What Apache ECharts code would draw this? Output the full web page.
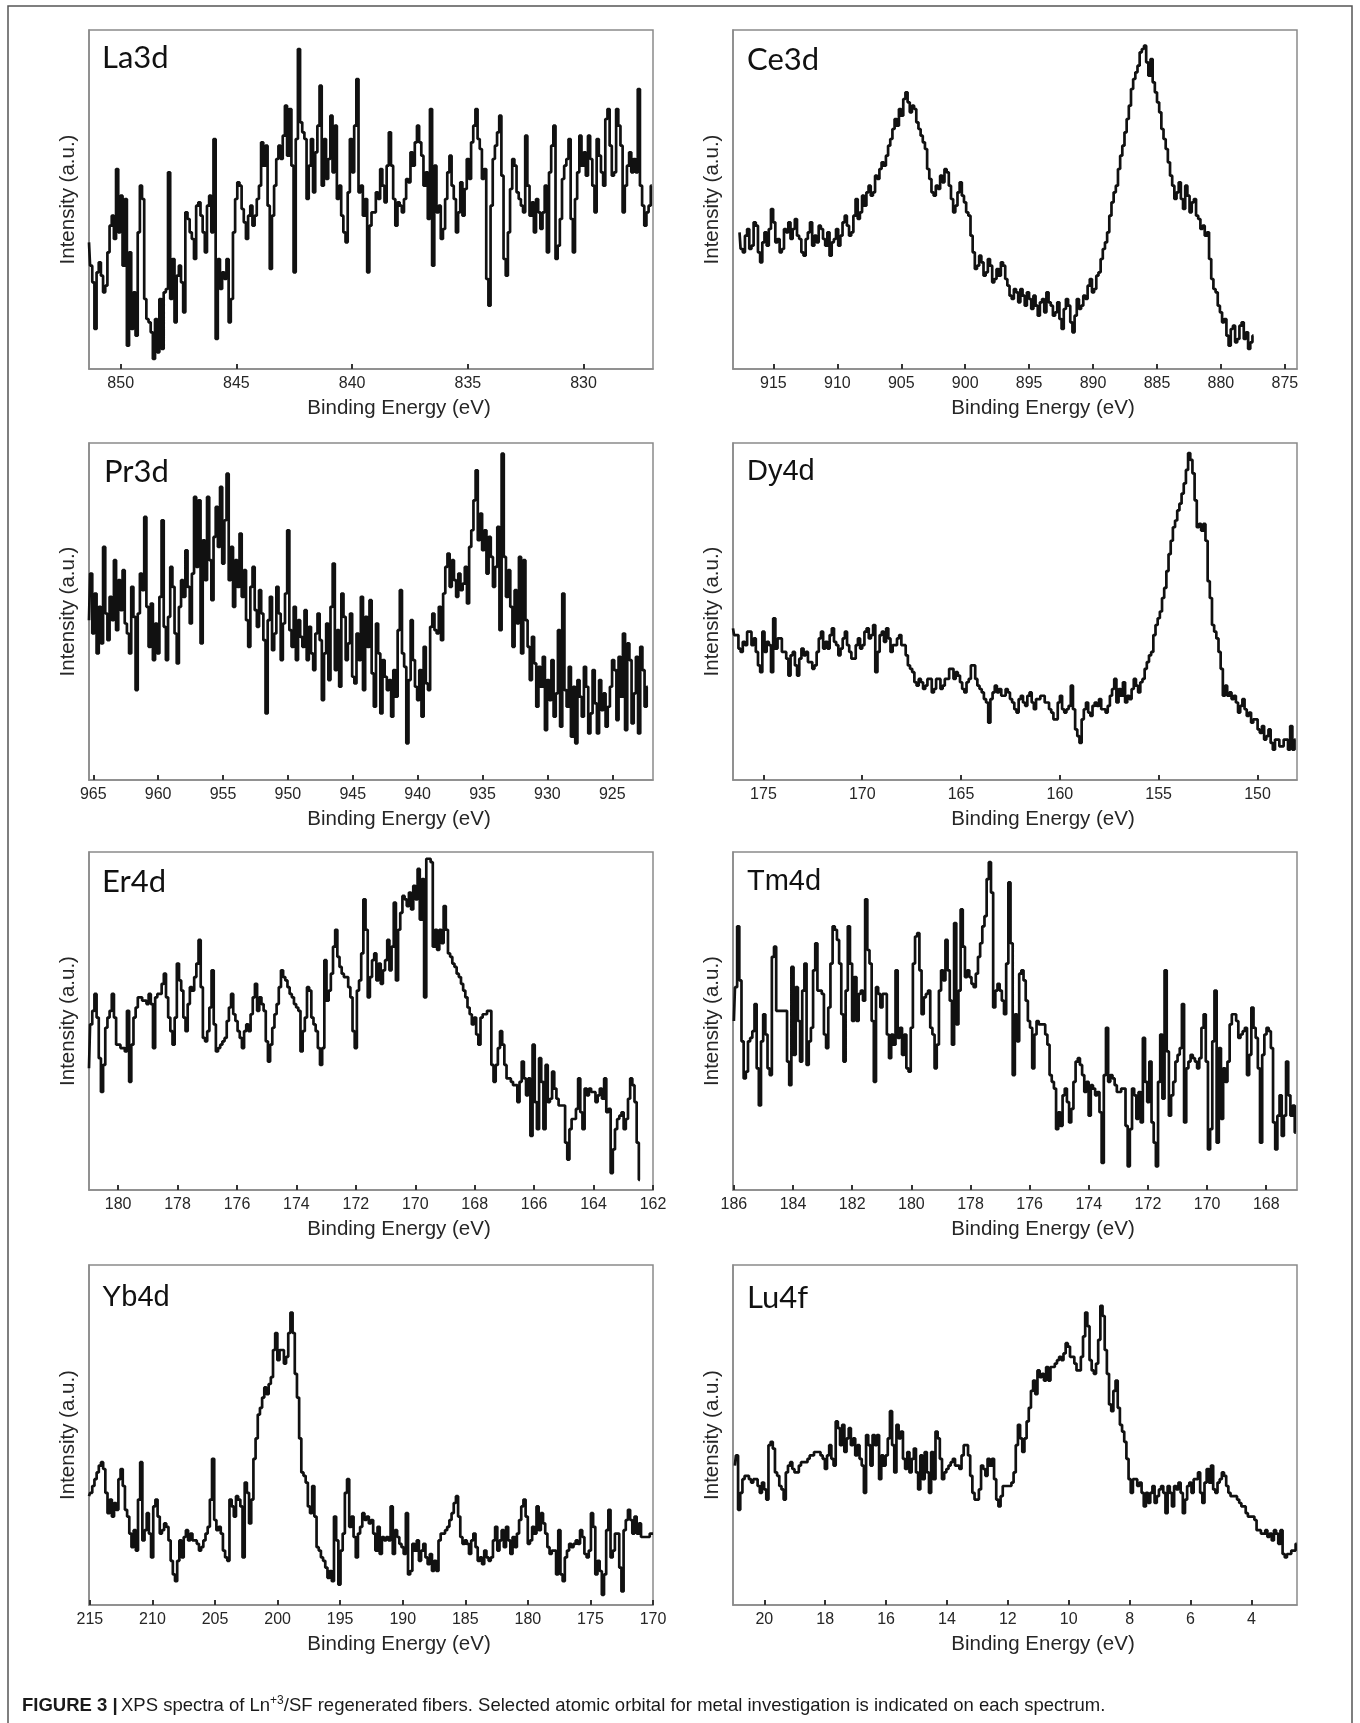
<!DOCTYPE html>
<html>
<head>
<meta charset="utf-8">
<title>XPS spectra of Ln+3/SF regenerated fibers</title>
<script src="https://cdn.jsdelivr.net/npm/echarts@6/dist/echarts.min.js"></script>
<style>
  html, body { margin: 0; padding: 0; background: #fff; }
  #chart { width: 1360px; height: 1723px; }
</style>
</head>
<body>
<div id="chart"></div>
<script>
// ---- Spectra (intensity in a.u., evenly spaced in binding energy) ----
const LA3D = [38,31,26,12,29,32,28,23,25,35,43,46,39,60,41,52,31,51,7,35,12,23,10,41,55,51,21,15,14,11,3,15,5,21,6,23,24,59,21,33,14,28,31,26,17,47,45,41,39,33,49,50,46,41,35,49,52,41,69,9,33,24,29,27,33,14,21,41,51,56,55,48,44,39,46,49,43,46,51,55,68,61,67,49,30,46,55,63,67,63,70,79,64,78,61,29,69,96,74,71,69,51,61,69,53,65,73,85,55,69,57,63,76,59,73,51,55,46,41,38,53,69,59,73,87,53,55,46,51,29,43,47,47,53,51,60,55,50,61,71,61,51,43,50,49,47,51,57,56,65,61,68,73,68,64,55,59,45,78,31,61,47,49,39,42,51,59,64,55,51,41,47,56,46,54,63,57,68,73,78,69,66,57,60,27,19,49,63,67,71,76,58,33,28,41,54,63,61,53,51,49,47,70,55,46,50,41,51,47,42,47,55,35,59,67,73,33,37,45,57,61,63,69,45,35,51,59,70,61,65,58,70,63,55,47,69,64,59,55,75,78,67,58,59,78,73,67,47,55,61,65,59,63,59,84,55,49,43,47,49,55];
const CE3D = [41,36,35,40,42,36,37,44,43,35,32,38,41,37,42,48,44,38,39,35,36,42,41,44,39,42,45,40,39,35,34,39,41,44,37,40,38,43,42,39,37,41,34,38,39,42,37,40,44,46,43,40,41,46,51,45,47,52,49,53,55,52,53,58,57,60,62,61,64,67,69,72,75,73,78,76,81,83,80,77,79,78,74,72,70,68,66,60,57,53,52,55,54,58,56,60,59,55,51,47,49,53,56,52,50,47,46,40,35,30,31,34,32,28,29,33,31,26,27,30,28,32,31,27,25,22,21,24,23,20,24,22,19,23,21,18,22,19,16,20,21,17,23,20,19,16,17,20,15,12,18,21,19,14,11,16,21,18,19,22,21,25,27,23,24,28,29,33,36,38,41,46,50,53,55,60,64,67,71,75,79,84,87,89,91,95,96,97,92,88,93,86,83,80,77,72,69,66,62,58,55,51,53,56,51,48,55,52,47,50,51,46,45,42,43,40,41,33,27,24,23,19,17,14,15,10,7,12,13,8,9,13,14,9,11,6,8,10];
const PR3D = [48,62,44,56,38,52,41,70,50,42,55,48,66,45,60,51,63,47,44,38,58,49,27,50,62,57,79,52,40,53,36,47,38,55,78,46,36,49,64,58,44,35,52,60,55,69,58,47,62,85,64,84,41,72,60,85,66,54,73,82,70,88,65,78,92,60,70,52,66,58,74,55,63,48,40,58,64,51,46,57,50,42,20,48,55,39,44,58,50,36,47,56,75,45,40,52,36,48,43,40,51,36,46,38,33,44,50,42,24,38,47,30,52,65,33,45,28,56,49,36,41,50,31,29,44,36,55,27,49,40,54,32,22,47,38,20,36,31,27,30,19,33,25,45,57,38,34,11,30,48,36,28,24,33,19,40,29,27,46,50,45,44,52,42,56,64,68,58,66,60,55,62,57,59,64,53,70,75,84,93,72,80,69,75,62,73,67,58,64,76,45,98,67,55,63,52,40,57,47,67,38,66,48,40,30,43,35,22,34,28,37,15,30,24,36,19,26,45,16,56,27,22,34,13,28,11,30,25,19,34,28,14,20,33,23,14,30,21,26,16,22,28,36,33,18,37,25,44,15,41,36,17,26,37,14,40,33,22,28];
const DY4D = [45,43,43,39,38,41,40,44,44,40,42,38,34,32,44,38,41,40,32,48,39,42,42,38,38,36,31,37,38,34,31,36,39,37,38,35,35,33,34,38,42,44,39,41,39,43,45,41,40,37,39,42,44,40,38,36,36,40,42,39,40,44,45,42,43,46,32,38,43,44,41,45,42,38,40,40,42,43,40,40,37,34,33,32,29,28,30,29,27,28,30,30,26,27,30,30,27,28,30,30,33,33,30,32,31,29,27,26,29,30,34,34,30,28,27,26,24,23,17,24,26,28,26,27,25,25,27,26,24,23,21,20,24,25,23,22,25,26,23,21,24,24,25,25,23,23,21,20,18,18,23,25,21,20,21,22,28,21,15,13,11,18,21,23,20,19,22,23,22,24,21,21,20,22,25,27,30,23,27,25,29,23,25,24,27,30,28,26,29,30,33,35,37,38,43,46,48,50,54,57,62,67,71,75,77,80,82,85,88,92,97,95,91,83,75,76,74,76,71,59,54,46,44,42,38,33,25,28,25,26,24,25,23,20,22,24,21,19,20,17,18,18,15,14,16,12,13,15,11,9,12,12,10,10,12,12,9,16,9,12];
const ER4D = [36,49,53,58,51,39,29,37,48,51,53,58,51,43,43,42,42,41,53,32,43,51,54,57,57,56,56,55,58,55,42,57,58,58,61,64,57,51,47,43,51,67,62,59,51,47,55,60,59,63,67,74,60,45,44,47,54,65,49,41,42,43,44,45,50,54,58,52,50,47,45,42,47,49,47,52,57,61,53,57,55,53,44,38,43,48,52,55,60,65,63,62,60,58,57,55,54,53,41,47,51,60,59,51,49,47,42,37,42,68,56,59,64,72,77,69,66,64,63,63,60,57,47,42,59,62,70,86,77,57,63,68,70,62,67,61,65,68,74,65,72,85,62,77,82,87,86,84,88,83,90,86,95,80,92,57,98,98,97,72,77,71,77,73,84,77,70,69,67,66,64,63,61,59,57,54,52,49,51,46,43,51,52,52,53,53,37,32,37,42,47,43,37,33,33,32,31,31,26,32,38,33,28,33,16,43,26,18,39,32,18,37,26,27,35,30,27,25,25,25,14,9,18,21,21,24,33,23,18,30,28,30,29,29,26,28,30,27,33,23,24,5,12,18,21,22,23,18,21,27,33,31,26,14,3];
const TM4D = [50,60,78,62,44,33,35,44,45,47,55,36,25,44,52,46,36,34,69,72,53,53,53,53,53,38,31,66,40,60,50,38,59,67,37,44,48,65,73,59,59,58,46,42,54,67,78,77,74,67,52,38,59,78,67,50,63,50,58,59,56,86,71,67,50,32,60,58,54,58,58,46,39,46,43,65,45,48,40,46,36,35,48,67,75,76,65,52,57,58,59,48,46,36,43,59,65,62,74,65,56,43,79,49,59,83,72,63,65,63,61,60,64,69,73,78,81,92,97,88,54,59,61,59,56,52,67,91,73,34,52,44,64,65,62,56,50,48,36,46,50,49,49,49,46,43,34,32,30,18,23,19,28,30,26,20,24,32,38,39,37,34,29,32,22,31,30,28,29,23,8,34,48,32,34,33,31,29,29,30,30,19,7,18,30,28,21,29,20,45,32,26,38,20,14,7,32,46,27,65,41,22,28,32,38,40,42,55,20,36,38,40,39,38,36,39,48,52,38,12,18,44,59,14,42,21,36,32,38,49,52,52,50,45,46,47,48,34,40,54,48,45,36,14,40,46,48,47,42,20,12,22,28,16,22,38,28,22,25,17];
const YB4D = [32,33,35,37,39,41,42,40,33,27,31,26,30,28,37,40,35,28,26,21,17,22,16,31,42,19,22,27,21,14,29,31,26,21,22,24,23,19,13,9,7,13,19,14,20,22,19,21,19,19,18,16,17,19,21,23,31,43,25,22,23,21,16,14,13,31,29,26,32,31,29,14,36,33,24,31,43,49,56,58,61,64,62,65,67,75,80,72,75,75,71,73,80,86,80,68,61,49,39,38,36,29,27,35,26,17,16,14,13,11,8,10,7,26,19,6,16,21,33,37,23,26,20,14,21,23,27,25,26,24,25,21,16,23,15,20,19,20,19,29,15,22,20,18,17,15,27,9,10,18,16,19,13,16,18,14,12,15,10,13,10,19,21,21,22,23,25,27,30,32,26,20,18,19,18,15,19,21,17,13,14,12,16,14,13,14,19,23,16,19,22,17,23,19,15,20,17,21,25,29,31,26,18,19,23,21,29,22,27,24,21,17,15,16,16,9,22,9,7,14,16,18,17,18,19,18,22,20,15,14,16,27,23,9,13,10,3,9,22,28,14,16,21,21,11,4,22,25,28,25,21,26,21,24,20,20,20,20,21,21];
const LU4F = [41,44,28,33,37,38,38,37,36,37,37,35,33,36,34,31,47,48,46,39,38,35,34,31,39,41,42,40,39,39,41,42,42,42,43,44,44,45,45,45,44,43,40,44,47,43,41,54,52,47,53,45,49,52,47,49,44,47,43,41,33,50,47,41,50,47,50,37,44,41,44,49,57,47,39,53,49,51,43,40,45,39,43,46,39,34,44,37,45,39,33,45,37,51,49,43,37,39,40,41,42,43,41,41,40,44,47,47,44,38,33,31,31,34,41,40,38,43,41,43,37,31,29,32,35,35,35,35,36,39,47,53,49,45,49,54,58,63,66,62,69,67,68,66,70,66,70,70,71,72,73,72,74,77,76,73,73,71,69,69,73,79,86,82,72,69,68,71,78,88,85,75,68,59,57,63,66,58,53,51,48,43,37,33,37,37,35,36,33,29,33,30,33,35,30,32,34,35,33,27,35,33,29,35,34,36,33,27,31,35,36,33,37,37,39,33,30,36,40,36,41,34,33,36,37,39,38,35,33,32,32,32,31,30,29,29,27,26,26,26,25,22,22,21,21,22,20,21,19,22,21,18,22,15,14,15,15,16,16,18];

// ---- Panel labels ----
const ORBITALS = ['La3d', 'Ce3d', 'Pr3d', 'Dy4d', 'Er4d', 'Tm4d', 'Yb4d', 'Lu4f'];

// ---- Binding energy of the first and last recorded point (eV) ----
const LA3D_SPAN = [851.37, 827.05];
const CE3D_SPAN = [917.65, 877.45];
const PR3D_SPAN = [965.33, 922.26];
const DY4D_SPAN = [176.54, 148.07];
const ER4D_SPAN = [180.98, 162.44];
const TM4D_SPAN = [186.0, 167.0];
const YB4D_SPAN = [215.07, 170.0];
const LU4F_SPAN = [20.97, 2.51];

// ---- Axis windows (high, low) in eV ----
const LA3D_WINDOW = [851.37, 827.0];
const CE3D_WINDOW = [918.16, 874.05];
const PR3D_WINDOW = [965.33, 921.86];
const DY4D_WINDOW = [176.54, 148.0];
const ER4D_WINDOW = [180.98, 162.0];
const TM4D_WINDOW = [186.03, 166.96];
const YB4D_WINDOW = [215.07, 170.0];
const LU4F_WINDOW = [21.03, 2.5];

// ---- Tick labels ----
const LA3D_TICKS = [850, 845, 840, 835, 830];
const CE3D_TICKS = [915, 910, 905, 900, 895, 890, 885, 880, 875];
const PR3D_TICKS = [965, 960, 955, 950, 945, 940, 935, 930, 925];
const DY4D_TICKS = [175, 170, 165, 160, 155, 150];
const ER4D_TICKS = [180, 178, 176, 174, 172, 170, 168, 166, 164, 162];
const TM4D_TICKS = [186, 184, 182, 180, 178, 176, 174, 172, 170, 168];
const YB4D_TICKS = [215, 210, 205, 200, 195, 190, 185, 180, 175, 170];
const LU4F_TICKS = [20, 18, 16, 14, 12, 10, 8, 6, 4];

// Top of the intensity scale per panel
const Y_TOPS = [101.7, 101.7, 101.2, 100, 100, 100, 100, 100];

const SPECTRA = [LA3D, CE3D, PR3D, DY4D, ER4D, TM4D, YB4D, LU4F];
const SPANS = [LA3D_SPAN, CE3D_SPAN, PR3D_SPAN, DY4D_SPAN, ER4D_SPAN, TM4D_SPAN, YB4D_SPAN, LU4F_SPAN];
const WINDOWS = [LA3D_WINDOW, CE3D_WINDOW, PR3D_WINDOW, DY4D_WINDOW, ER4D_WINDOW, TM4D_WINDOW, YB4D_WINDOW, LU4F_WINDOW];
const TICKS = [LA3D_TICKS, CE3D_TICKS, PR3D_TICKS, DY4D_TICKS, ER4D_TICKS, TM4D_TICKS, YB4D_TICKS, LU4F_TICKS];

// ---- Layout ----
const COL_LEFT = [89, 733];
const BOX_W = 564;
const ROW_TOP = [30, 443, 852, 1265];
const ROW_H = [339, 337, 338, 340];
const TITLE_POS = [[102, 58], [747, 60], [104, 472], [747, 472], [102, 882], [747, 882], [102, 1298], [747, 1298]];
const TITLE_FONT = ['Lato', 'Lato', 'Lato', 'Liberation Sans', 'Lato', 'Liberation Sans', 'Liberation Sans', 'Lato'];

const AXIS_GREY = '#8a8a8a';
const TEXT = '#262626';

const grids = [], xAxes = [], yAxes = [], series = [], graphics = [];

SPECTRA.forEach((vals, k) => {
  const col = k % 2, row = Math.floor(k / 2);
  grids.push({
    left: COL_LEFT[col], top: ROW_TOP[row], width: BOX_W, height: ROW_H[row],
    show: true, borderColor: AXIS_GREY, borderWidth: 1.5, containLabel: false
  });
  const [hi, lo] = WINDOWS[k];
  xAxes.push({
    type: 'value', gridIndex: k, inverse: true, min: lo, max: hi,
    axisLine: { show: true, onZero: false, lineStyle: { color: AXIS_GREY, width: 1.5 } },
    axisTick: { show: true, inside: true, length: 5, customValues: TICKS[k], lineStyle: { color: '#333', width: 2 } },
    axisLabel: { show: true, customValues: TICKS[k], margin: 7, color: TEXT, fontSize: 16, fontFamily: 'Liberation Sans' },
    splitLine: { show: false },
    name: 'Binding Energy (eV)', nameLocation: 'middle', nameGap: 29,
    // the axis title sits a little right of the box centre
    nameTextStyle: { fontSize: 20.5, fontFamily: 'Liberation Sans', color: TEXT, padding: [0, 0, 0, 56] }
  });
  yAxes.push({
    type: 'value', gridIndex: k, min: 0, max: Y_TOPS[k],
    axisLine: { show: true, lineStyle: { color: AXIS_GREY, width: 1.5 } },
    axisTick: { show: false }, axisLabel: { show: false }, splitLine: { show: false },
    name: 'Intensity (a.u.)', nameLocation: 'middle', nameGap: 10, nameRotate: 90,
    nameTextStyle: { fontSize: 20.5, fontFamily: 'Liberation Sans', color: TEXT }
  });
  const [e0, e1] = SPANS[k];
  const n = vals.length;
  series.push({
    type: 'line', xAxisIndex: k, yAxisIndex: k, step: 'middle',
    showSymbol: false, animation: false, silent: true,
    lineStyle: { color: '#111', width: 2.7 },
    data: vals.map((v, i) => [e0 + (e1 - e0) * i / (n - 1), v])
  });
  graphics.push({
    type: 'text', x: TITLE_POS[k][0], y: TITLE_POS[k][1],
    style: {
      text: ORBITALS[k], fill: '#111',
      font: (TITLE_FONT[k] === 'Lato' ? '31px Lato' : '29px "Liberation Sans"'),
      align: 'left', verticalAlign: 'middle'
    }
  });
});

// outer figure frame (open at the bottom)
graphics.push({
  type: 'polyline',
  shape: { points: [[8, 1723], [8, 6], [1352, 6], [1352, 1723]] },
  style: { stroke: '#555', lineWidth: 1.5, fill: null }
});

// caption
graphics.push({
  type: 'text', x: 22, y: 1706,
  style: {
    text: '{b|FIGURE 3 |} {n|XPS spectra of Ln}{s|+3}{n|/SF regenerated fibers. Selected atomic orbital for metal investigation is indicated on each spectrum.}',
    verticalAlign: 'middle', align: 'left',
    rich: {
      b: { fontFamily: 'Liberation Sans', fontWeight: 'bold', fontSize: 18.5, fill: '#1a1a1a' },
      n: { fontFamily: 'Liberation Sans', fontSize: 18.5, fill: '#1a1a1a' },
      s: { fontFamily: 'Liberation Sans', fontSize: 12, fill: '#1a1a1a', verticalAlign: 'top', lineHeight: 22 }
    }
  }
});

const chart = echarts.init(document.getElementById('chart'), null, { renderer: 'canvas', width: 1360, height: 1723 });
chart.setOption({
  backgroundColor: '#ffffff',
  animation: false,
  grid: grids,
  xAxis: xAxes,
  yAxis: yAxes,
  series: series,
  graphic: graphics
});
</script>
</body>
</html>
